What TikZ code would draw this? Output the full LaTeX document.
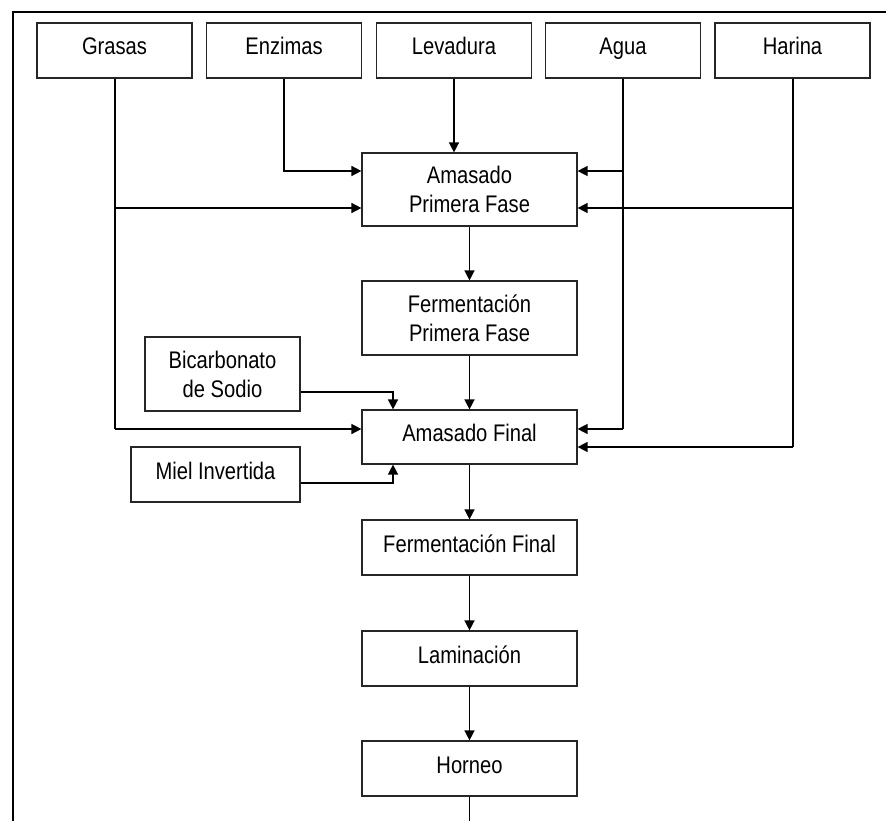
\documentclass[tikz,border=0pt]{standalone}
\usepackage{fontspec}
\setmainfont{Liberation Sans}[FakeStretch=0.84]
\usetikzlibrary{arrows.meta,calc}
\begin{document}
\begin{tikzpicture}[x=1pt,y=-1pt,
  every node/.style={font=\fontsize{24}{29}\selectfont},
  box/.style={draw=black!85,line width=1.2pt,inner sep=0pt,align=center,minimum height=55pt},
  one/.style={text height=16pt,text depth=7pt},
  wbox/.style={box,minimum width=215pt},
  ibox/.style={box,minimum width=155pt},
  link/.style={line width=1.5pt},
  arr/.style={link,-{Triangle[length=10pt,width=10pt]}}]
\useasboundingbox (0,0) rectangle (886,821);
\draw[line width=1.8pt] (886,12) -- (13,12) -- (13,821);
% top inputs
\node[ibox,one] (gra) at (114.5,50.5) {Grasas};
\node[ibox,one] (enz) at (284,50.5) {Enzimas};
\node[ibox,one] (lev) at (454,50.5) {Levadura};
\node[ibox,one] (agu) at (623,50.5) {Agua};
\node[ibox,one] (har) at (792.5,50.5) {Harina};
% main column
\node[wbox,minimum height=73pt] (amp) at (469.5,189.5) {Amasado\\Primera Fase};
\node[wbox,minimum height=74pt] (fep) at (469.5,318) {Fermentación\\Primera Fase};
\node[wbox,one,minimum height=54pt] (amf) at (469.5,437) {Amasado Final};
\node[wbox,one] (fef) at (469.5,547.5) {Fermentación Final};
\node[wbox,one] (lam) at (469.5,658.5) {Laminación};
\node[wbox,one] (hor) at (469.5,768.5) {Horneo};
% side inputs
\node[ibox,minimum height=74pt] (bic) at (222.5,374) {Bicarbonato\\de Sodio};
\node[box,one,minimum width=169pt] (mie) at (215.5,474.5) {Miel Invertida};
% junction coordinates
\coordinate (gA) at (115,208);
\coordinate (gB) at (115,429);
\coordinate (eA) at (284,171);
\coordinate (aA) at (623,171);
\coordinate (aB) at (623,429);
\coordinate (hA) at (793,208);
\coordinate (hB) at (793,447);
\coordinate (bA) at (393,392);
\coordinate (mA) at (393,483);
\coordinate (end) at (469.5,821);
% connectors
\draw[link] (gra.south -| gB) -- (gB);
\draw[arr] (gA) -- (gA -| amp.west);
\draw[arr] (gB) -- (gB -| amf.west);
\draw[arr] (enz.south -| eA) -- (eA) -- (eA -| amp.west);
\draw[arr] (lev.south) -- (lev.south |- amp.north);
\draw[link] (agu.south -| aB) -- (aB);
\draw[arr] (aA) -- (aA -| amp.east);
\draw[arr] (aB) -- (aB -| amf.east);
\draw[link] (har.south -| hB) -- (hB);
\draw[arr] (hA) -- (hA -| amp.east);
\draw[arr] (hB) -- (hB -| amf.east);
\draw[arr] (amp) -- (fep);
\draw[arr] (fep) -- (amf);
\draw[arr] (bA -| bic.east) -- (bA) -- (bA |- amf.north);
\draw[arr] (mA -| mie.east) -- (mA) -- (mA |- amf.south);
\draw[arr] (amf) -- (fef);
\draw[arr] (fef) -- (lam);
\draw[arr] (lam) -- (hor);
\draw[link] (hor.south) -- (end);
\end{tikzpicture}
\end{document}
